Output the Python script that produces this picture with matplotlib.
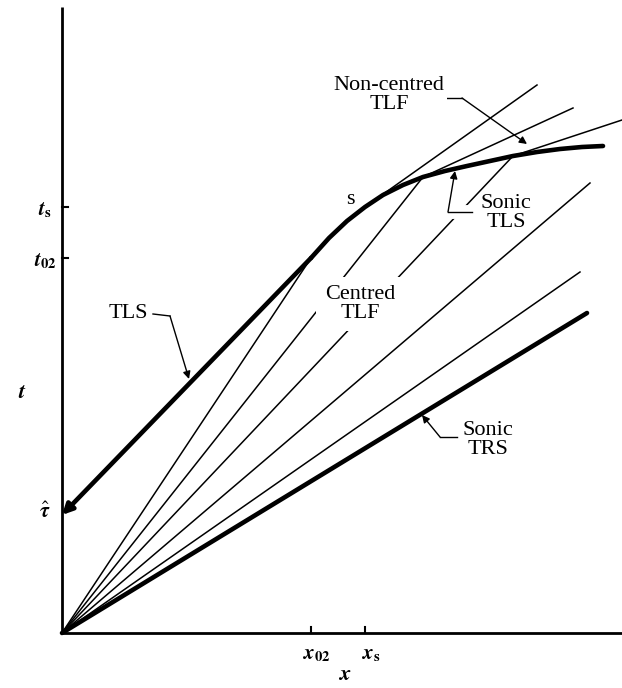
import matplotlib.pyplot as plt
import matplotlib.patheffects as pe

plt.rcParams['font.family'] = ['Liberation Serif', 'DejaVu Serif']
plt.rcParams['mathtext.fontset'] = 'stix'

# key points on the t-x plane
x02, t02 = 249, 375          # TLS meets the curved sonic path
xs, ts = 303, 426            # sonic point s
tau_hat = 118                # TLS crosses the t axis

# curved part of the tail-left path (sonic TLS)
curve_x = [249, 267, 285, 303, 321, 341, 361, 383, 405, 428, 451, 475, 498, 520, 541]
curve_t = [375, 395, 412, 426, 438, 448, 456, 462, 467, 472, 477, 481, 484, 486, 487]

# centred fan lines from the origin (end points)
fan_x = [249, 361, 451, 528, 518]
fan_t = [375, 456, 477, 450, 361]

# sonic TRS
trs_x, trs_t = 525, 320

# non-centred fan lines, start and end points
nc_x0 = [303, 361, 451]
nc_t0 = [426, 456, 477]
nc_x1 = [475, 511, 560]
nc_t1 = [548, 525, 513]

fig = plt.figure(figsize=(6.22, 6.88), dpi=100)
ax = fig.add_axes([0, 0, 1, 1])
ax.set_xlim(-62, 560)
ax.set_ylim(-55, 633)
ax.axis('off')

thin = 1.1
thick = 3.3

# axes
ax.plot([0, 0], [0, 626], color='k', lw=2.0, solid_capstyle='butt')
ax.plot([0, 560], [0, 0], color='k', lw=2.0, solid_capstyle='butt')
ax.plot([0, 6], [ts, ts], color='k', lw=1.5)
ax.plot([0, 6], [t02, t02], color='k', lw=1.5)
ax.plot([x02, x02], [0, 6], color='k', lw=1.5)
ax.plot([xs, xs], [0, 6], color='k', lw=1.5)

for ex, et in zip(fan_x, fan_t):
    ax.plot([0, ex], [0, et], color='k', lw=thin)
for a, b, c, d in zip(nc_x0, nc_t0, nc_x1, nc_t1):
    ax.plot([a, c], [b, d], color='k', lw=thin)

ax.plot(curve_x, curve_t, color='k', lw=thick, solid_capstyle='round',
        solid_joinstyle='round')
ax.plot([0, trs_x], [0, trs_t], color='k', lw=thick, solid_capstyle='round')
ax.annotate('', xy=(0, tau_hat), xytext=(x02, t02),
            arrowprops=dict(arrowstyle='-|>', lw=thick, color='k',
                            mutation_scale=15, shrinkA=0, shrinkB=0))

fs = 16
# tick and axis labels
ax.text(-17, ts - 3, r'$\mathbfit{t}_{\mathbf{s}}$', fontsize=15, ha='center', va='center')
ax.text(-17, t02 - 3, r'$\mathbfit{t}_{\mathbf{02}}$', fontsize=15, ha='center', va='center')
ax.text(-17, tau_hat + 2, r'$\hat{\mathbfit{\tau}}$', fontsize=15, ha='center', va='center')
ax.text(-40, 240, r'$\mathbfit{t}$', fontsize=16, ha='center', va='center')
ax.text(x02 + 6, -22, r'$\mathbfit{x}_{\mathbf{02}}$', fontsize=15, ha='center', va='center')
ax.text(xs + 6, -22, r'$\mathbfit{x}_{\mathbf{s}}$', fontsize=15, ha='center', va='center')
ax.text(283, -43, r'$\mathbfit{x}$', fontsize=16, ha='center', va='center')
ax.text(288, 433, 's', fontsize=fs, ha='center', va='center')

box = dict(facecolor='white', edgecolor='none', pad=2)
ax.text(327, 538, 'Non-centred\nTLF', fontsize=fs, ha='center', va='center',
        linespacing=1.0, bbox=box)
ax.text(444, 420, 'Sonic\nTLS', fontsize=fs, ha='center', va='center',
        linespacing=1.0)
ax.text(298, 329, 'Centred\nTLF', fontsize=fs, ha='center', va='center',
        linespacing=1.0, bbox=dict(facecolor='white', edgecolor='none', pad=6))
ax.text(66, 320, 'TLS', fontsize=fs, ha='center', va='center')
ax.text(426, 193, 'Sonic\nTRS', fontsize=fs, ha='center', va='center',
        linespacing=1.0, bbox=box)

arrow = dict(arrowstyle='-|>', lw=1.0, color='k', mutation_scale=11,
             shrinkA=0, shrinkB=0)

# leader lines
ax.plot([383, 400], [535, 535], color='k', lw=1.0)
ax.annotate('', xy=(465, 489), xytext=(400, 535), arrowprops=arrow)

ax.plot([410, 386], [421, 421], color='k', lw=1.0,
        path_effects=[pe.Stroke(linewidth=10, foreground='white'), pe.Normal()])
ax.annotate('', xy=(393, 462), xytext=(386, 421), arrowprops=arrow)

ax.plot([91, 108], [319, 317], color='k', lw=1.0)
ax.annotate('', xy=(127, 254), xytext=(108, 317), arrowprops=arrow)

ax.plot([395, 378], [196, 196], color='k', lw=1.0)
ax.annotate('', xy=(360, 218), xytext=(378, 196), arrowprops=arrow)

fig.savefig('out.png', dpi=100)
